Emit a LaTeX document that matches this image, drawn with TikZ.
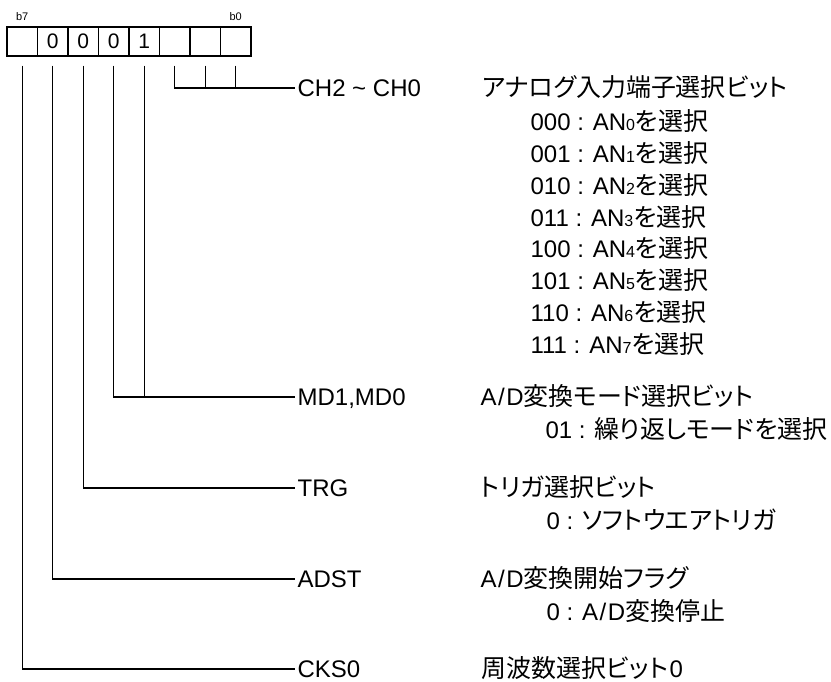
\documentclass[tikz,border=0pt]{standalone}
\usepackage{fontspec}
\setmainfont{Liberation Sans}
\newfontfamily\jp[RawFeature=+palt,Scale=1.04]{Noto Sans CJK JP}
\usetikzlibrary{positioning}
\newcommand{\sdig}[1]{{\fontsize{16}{16}\selectfont #1}}
\newcommand{\AD}{A\kern1.5pt/\kern1.5pt D}

\begin{document}
\begin{tikzpicture}[x=1pt,y=-1pt,node distance=30.5pt,line width=1.2pt,
                    font=\fontsize{24}{28}\selectfont]
  \tikzstyle{bitcell}=[draw,line width=1.5pt,minimum width=30.5pt,
                       minimum height=29pt,inner sep=0pt,
                       font=\fontsize{21}{21}\selectfont]
  \tikzstyle{bitno}=[inner sep=0pt,font=\fontsize{11}{11}\selectfont]
  \tikzstyle{field}=[anchor=west,inner sep=2pt,text height=17.2pt,text depth=0pt]
  \tikzstyle{desc}=[anchor=west,inner sep=0pt,text height=17.2pt,text depth=0pt]

  \useasboundingbox (0,0) rectangle (831,682);

  % register bits
  \node[bitcell]              (c7) at (22.25,41.5) {};
  \node[bitcell, right of=c7] (c6) {0};
  \node[bitcell, right of=c6] (c5) {0};
  \node[bitcell, right of=c5] (c4) {0};
  \node[bitcell, right of=c4] (c3) {1};
  \node[bitcell, right of=c3] (c2) {};
  \node[bitcell, right of=c2] (c1) {};
  \node[bitcell, right of=c1] (c0) {};

  \node[bitno, above=5pt of c7] (b7) {b7};
  \node[bitno, above=5pt of c0] (b0) {b0};

  % bit field names
  \node[field] (ch)   at (295,88)  {CH2 \textasciitilde{} CH0};
  \node[field] (md)   at (295,397) {MD1,MD0};
  \node[field] (trg)  at (295,488) {TRG};
  \node[field] (adst) at (295,579) {ADST};
  \node[field] (cks)  at (295,669) {CKS0};

  % descriptions
  \node[desc] (chd)   at (482,88)  {\jp アナログ入力端子選択ビット};
  \foreach \v [count=\i from 0] in {000,001,010,011,100,101,110,111}
    \node[desc] (chv\i) at (530,122+31.85*\i) {\v{} : AN\sdig{\i}{\jp を選択}};
  \node[desc] (mdd)   at (480,397) {\AD{\jp 変換モード選択ビット}};
  \node[desc] (mdv)   at (545,430) {01 : {\jp 繰り返しモードを選択}};
  \node[desc] (trgd)  at (480,488) {\jp トリガ選択ビット};
  \node[desc] (trgv)  at (546,521) {0 : {\jp ソフトウエアトリガ}};
  \node[desc] (adstd) at (480,579) {\AD{\jp 変換開始フラグ}};
  \node[desc] (adstv) at (546,612) {0 : \AD{\jp 変換停止}};
  \node[desc] (cksd)  at (481,669) {{\jp 周波数選択ビット}\kern1.5pt 0};

  % connectors
  \foreach \c in {c2,c1,c0}
    \draw ([yshift=-9pt]\c.south) |- (ch.west);
  \foreach \c in {c4,c3}
    \draw ([yshift=-9pt]\c.south) |- (md.west);
  \draw ([yshift=-9pt]c5.south) |- (trg.west);
  \draw ([yshift=-9pt]c6.south) |- (adst.west);
  \draw ([yshift=-9pt]c7.south) |- (cks.west);
\end{tikzpicture}
\end{document}
